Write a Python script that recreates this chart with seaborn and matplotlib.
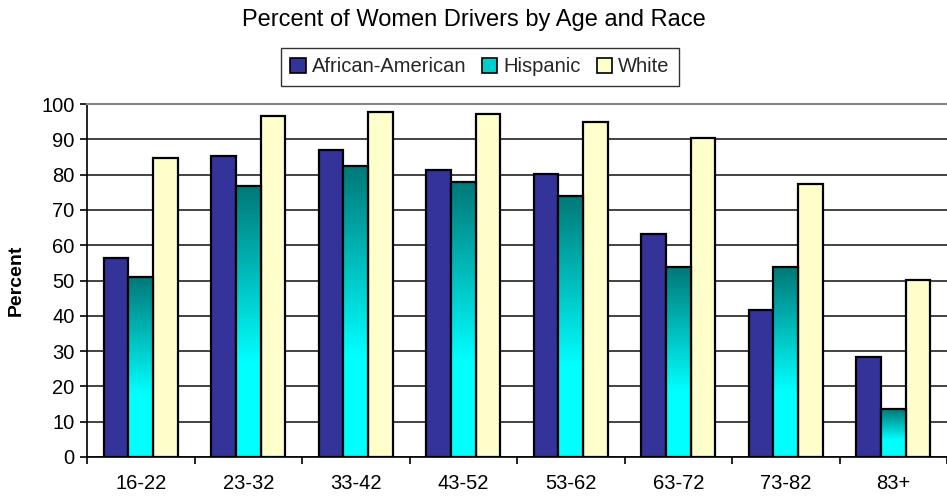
import numpy as np
import pandas as pd
import seaborn as sns
import matplotlib.pyplot as plt
from matplotlib.colors import LinearSegmentedColormap
from matplotlib.patches import Patch

ages = ['16-22', '23-32', '33-42', '43-52', '53-62', '63-72', '73-82', '83+']
races = ['African-American', 'Hispanic', 'White']
african_american = [56.5, 85.2, 86.9, 81.2, 80.2, 63.2, 41.7, 28.2]
hispanic = [50.9, 76.7, 82.3, 77.9, 73.9, 53.8, 53.8, 13.5]
white = [84.6, 96.5, 97.6, 97.2, 94.9, 90.4, 77.4, 50.1]

df = pd.DataFrame({'Age': ages * 3,
                   'Race': np.repeat(races, len(ages)),
                   'Percent': african_american + hispanic + white})

sns.set_theme(style="white")
plt.rcParams['font.family'] = ['Liberation Sans', 'DejaVu Sans']

fig = plt.figure(figsize=(9.47, 5.04), dpi=100)
ax = fig.add_axes([87/947, 47/504, 860/947, 353/504])

colors = ['#333399', '#00CCCC', '#FFFFCC']
sns.barplot(data=df, x='Age', y='Percent', hue='Race', palette=colors, saturation=1,
            width=0.685, edgecolor='black', linewidth=1.6, legend=False, ax=ax)

# horizontal gridlines drawn behind bars
ax.set_axisbelow(True)
ax.yaxis.grid(True, color='#222222', linewidth=1.2)
ax.set_yticks(range(0, 101, 10))

# teal -> cyan gradient on the Hispanic bars
cmap = LinearSegmentedColormap.from_list('teal', [(0, '#00FFFF'), (0.35, '#00FFFF'), (1, '#007878')])
grad = np.linspace(0, 1, 256).reshape(-1, 1)
for bar in ax.containers[1]:
    x0, y0 = bar.get_x(), bar.get_y()
    w, h = bar.get_width(), bar.get_height()
    im = ax.imshow(grad, cmap=cmap, aspect='auto', origin='lower',
                   extent=[x0, x0 + w, y0, y0 + h], zorder=bar.get_zorder())
    im.set_clip_path(bar)
    bar.set_facecolor('none')
    bar.set_zorder(bar.get_zorder() + 0.1)
ax.set_xlim(-0.5, 7.5)
ax.set_ylim(0, 100)

for s in ['left', 'bottom']:
    ax.spines[s].set_color('black')
    ax.spines[s].set_linewidth(1.2)
ax.spines['top'].set_color('#888888')
ax.spines['top'].set_linewidth(1.5)
ax.spines['right'].set_visible(False)

ax.set_xticks(range(len(ages)))
ax.set_xticklabels(ages)
ax.set_xticks(np.arange(-0.5, 8, 1), minor=True)
ax.tick_params(axis='x', which='major', length=0, labelsize=14.5, pad=12, colors='black')
ax.tick_params(axis='x', which='minor', length=5, width=1.2, color='black', direction='out', bottom=True)
ax.tick_params(axis='y', length=5, width=1.2, color='black', direction='out', left=True,
               labelsize=14.5, labelcolor='black', pad=4)
ax.set_xlabel('')
ax.set_ylabel('Percent', fontsize=14, fontweight='bold', color='black')
ax.yaxis.set_label_coords(-(87 - 25) / 860, 0.5)

fig.text(0.5, 1 - 20/504, 'Percent of Women Drivers by Age and Race',
         ha='center', va='center', fontsize=17, color='black')

handles = [Patch(facecolor=c, edgecolor='black', linewidth=1.2) for c in colors]
leg = fig.legend(handles, races, loc='center', bbox_to_anchor=(480/947, 1 - 67/504), ncol=3,
                 frameon=True, fontsize=14.5, handlelength=0.75, handleheight=0.75,
                 handletextpad=0.3, columnspacing=0.8, borderpad=0.45, fancybox=False)
leg.get_frame().set_edgecolor('black')
leg.get_frame().set_linewidth(1.0)

fig.savefig('out.png', dpi=100)
